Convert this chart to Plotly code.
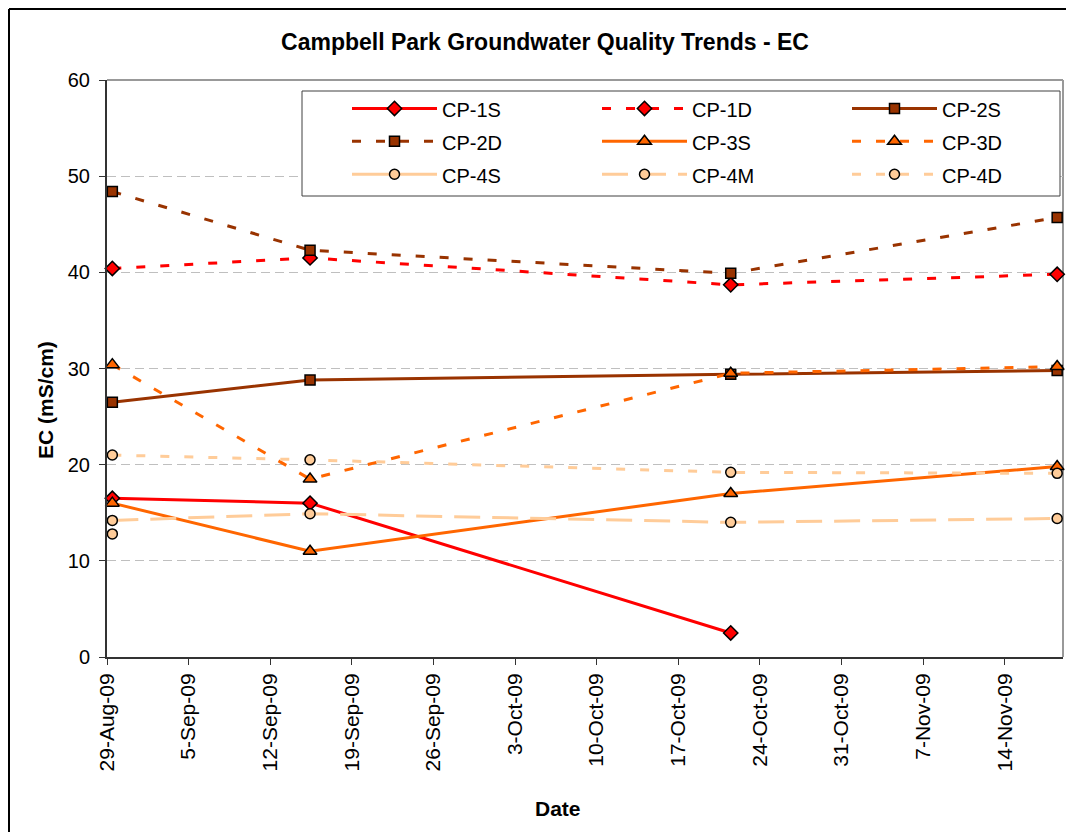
import plotly.graph_objects as go

# ---- data ----
dates = ["2009-08-29 11:00", "2009-09-15 10:00", "2009-10-21 12:00", "2009-11-18 12:00"]
cp1s = [16.5, 16.0, 2.5, None]
cp1d = [40.4, 41.5, 38.7, 39.8]
cp2s = [26.5, 28.8, 29.4, 29.8]
cp2d = [48.4, 42.3, 39.9, 45.7]
cp3s = [16.0, 11.0, 17.0, 19.8]
cp3d = [30.4, 18.5, 29.5, 30.2]
cp4s = [12.8, None, None, None]
cp4m = [14.2, 14.9, 14.0, 14.4]
cp4d = [21.0, 20.5, 19.2, 19.1]

tick_vals = ["2009-08-29", "2009-09-05", "2009-09-12", "2009-09-19", "2009-09-26", "2009-10-03",
             "2009-10-10", "2009-10-17", "2009-10-24", "2009-10-31", "2009-11-07", "2009-11-14"]
tick_text = ["29-Aug-09", "5-Sep-09", "12-Sep-09", "19-Sep-09", "26-Sep-09", "3-Oct-09",
             "10-Oct-09", "17-Oct-09", "24-Oct-09", "31-Oct-09", "7-Nov-09", "14-Nov-09"]

RED = "#FF0000"
BROWN = "#993300"
ORANGE = "#FF6600"
PEACH = "#FFCC99"
SHORT = "9px,15px"
LONG = "26px,12px"

series = [
    ("CP-1S", cp1s, RED, "solid", "diamond", 11),
    ("CP-1D", cp1d, RED, SHORT, "diamond", 11),
    ("CP-2S", cp2s, BROWN, "solid", "square", 10),
    ("CP-2D", cp2d, BROWN, SHORT, "square", 10),
    ("CP-3S", cp3s, ORANGE, "solid", "triangle-up", 12),
    ("CP-3D", cp3d, ORANGE, SHORT, "triangle-up", 12),
    ("CP-4S", cp4s, PEACH, "solid", "circle", 10),
    ("CP-4M", cp4m, PEACH, LONG, "circle", 10),
    ("CP-4D", cp4d, PEACH, SHORT, "circle", 10),
]

FONT = "Arial, Liberation Sans, sans-serif"

fig = go.Figure()
for name, vals, col, dash, sym, sz in series:
    fig.add_trace(go.Scatter(
        x=dates, y=vals, name="<span style='font-size:20px'>%s</span>" % name,
        mode="lines+markers", cliponaxis=False,
        line=dict(color=col, width=3, dash=dash),
        marker=dict(symbol=sym, size=sz, color=col, line=dict(color="black", width=1.5)),
    ))

# page is offset by the 8px body margin
OFF = 8
W, H = 1074 - OFF, 832 - OFF
L, T = 107 - OFF, 80 - OFF
R = W - (1063 - OFF)
B = H - (657 - OFF)
pw, ph = W - L - R, H - T - B

def px_x(p):
    return (p - OFF - L) / pw

def px_y(p):
    return (H - B - (p - OFF)) / ph

fig.update_layout(
    width=W, height=H,
    margin=dict(l=L, r=R, t=T, b=B, autoexpand=False),
    paper_bgcolor="white", plot_bgcolor="white",
    font=dict(family=FONT, color="black"),
    title=dict(text="<b>Campbell Park Groundwater Quality Trends - EC</b>",
               x=(545 - OFF) / W, xref="container", xanchor="center",
               y=1 - (42 - OFF) / H, yref="container", yanchor="middle",
               font=dict(size=23, family=FONT, color="black")),
    showlegend=True,
    legend=dict(orientation="h", x=px_x(347), y=px_y(87), xanchor="left", yanchor="top",
                bgcolor="rgba(0,0,0,0)", borderwidth=0,
                font=dict(size=23, family=FONT, color="black"),
                itemwidth=85, entrywidth=150, entrywidthmode="pixels",
                traceorder="normal"),
    xaxis=dict(type="date", range=["2009-08-29", "2009-11-19"],
               tickmode="array", tickvals=tick_vals, ticktext=tick_text,
               tickangle=-90, tickfont=dict(size=21, family=FONT, color="black"),
               ticks="outside", ticklen=6, tickcolor="#333333", tickwidth=1,
               showline=True, linecolor="#333333", linewidth=2,
               showgrid=False, zeroline=False),
    yaxis=dict(range=[0, 60], tickvals=[0, 10, 20, 30, 40, 50, 60],
               tickfont=dict(size=20, family=FONT, color="black"),
               ticks="outside", ticklen=6, tickcolor="#333333", tickwidth=1,
               ticklabelstandoff=5,
               showline=True, linecolor="#333333", linewidth=2,
               showgrid=True, gridcolor="#BFBFBF", gridwidth=1, griddash="9px,5px",
               zeroline=False),
    annotations=[
        dict(text="<b>EC (mS/cm)</b>", xref="paper", yref="paper",
             x=px_x(45), y=px_y(400), textangle=-90, showarrow=False,
             xanchor="center", yanchor="middle",
             font=dict(size=21, family=FONT, color="black")),
        dict(text="<b>Date</b>", xref="paper", yref="paper",
             x=px_x(558), y=px_y(808), showarrow=False,
             xanchor="center", yanchor="middle",
             font=dict(size=21, family=FONT, color="black")),
    ],
    shapes=[
        # plot area border (gray, top and right)
        dict(type="line", xref="paper", yref="paper", x0=0, x1=1, y0=1, y1=1,
             line=dict(color="#999999", width=2), layer="below"),
        dict(type="line", xref="paper", yref="paper", x0=1, x1=1, y0=0, y1=1,
             line=dict(color="#999999", width=2), layer="below"),
        # legend box
        dict(type="rect", xref="paper", yref="paper",
             x0=px_x(302), x1=px_x(1060), y0=px_y(91), y1=px_y(196),
             fillcolor="white", line=dict(color="#404040", width=1), layer="above"),
        # chart outer frame (top and left)
        dict(type="line", xref="paper", yref="paper", x0=px_x(9), x1=px_x(1090), y0=px_y(9), y1=px_y(9),
             line=dict(color="black", width=2)),
        dict(type="line", xref="paper", yref="paper", x0=px_x(9), x1=px_x(9), y0=px_y(9), y1=px_y(850),
             line=dict(color="black", width=2)),
    ],
)

fig.write_html("out.html")
